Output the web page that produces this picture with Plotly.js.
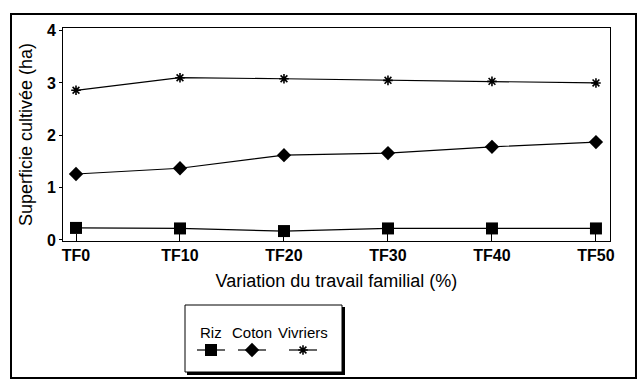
<!DOCTYPE html>
<html>
<head>
<meta charset="utf-8">
<script src="https://cdn.plot.ly/plotly-3.0.1.min.js"></script>
<style>html,body{margin:0;padding:0;background:#fff}#chart{width:638px;height:386px}</style>
</head>
<body>
<div id="chart"></div>
<script>
// ---- data ----
const categories = ["TF0", "TF10", "TF20", "TF30", "TF40", "TF50"];
const riz      = [0.23, 0.22, 0.17, 0.22, 0.22, 0.22];
const coton    = [1.26, 1.37, 1.62, 1.66, 1.78, 1.87];
const vivriers = [2.86, 3.10, 3.08, 3.05, 3.03, 3.00];
const seriesNames = ["Riz", "Coton", "Vivriers"];
const yTicks = [0, 1, 2, 3, 4];

// ---- layout geometry (pixels on a 638x386 page) ----
const W = 638, H = 386;
const px = x => x / W;
const py = y => 1 - y / H;
const plotL = 63, plotR = 610, plotT = 28, plotB = 241;

const symbols = ["square", "diamond", "asterisk-open"];
const sizes = [12, 11, 8];
const seriesData = [riz, coton, vivriers];

const traces = seriesData.map((vals, i) => ({
  type: "scatter", mode: "lines+markers",
  x: categories, y: vals, name: seriesNames[i],
  xaxis: "x", yaxis: "y",
  line: {color: "#000", width: 1.2},
  marker: {symbol: symbols[i], size: sizes[i], color: "#000",
           line: {color: "#000", width: i === 2 ? 1.6 : 0}},
  cliponaxis: false, showlegend: false
}));

// custom legend keys (text above the sample, as in the original)
const keyCenters = [211, 252, 303];
const keyHalf = 14, keyY = 350, labelY = 332;
keyCenters.forEach((cx, i) => {
  traces.push({
    type: "scatter", mode: "lines", x: [cx - keyHalf, cx + keyHalf], y: [keyY, keyY],
    xaxis: "x2", yaxis: "y2", line: {color: "#000", width: 1.2},
    hoverinfo: "skip", showlegend: false
  });
  traces.push({
    type: "scatter", mode: "markers", x: [cx], y: [keyY],
    xaxis: "x2", yaxis: "y2",
    marker: {symbol: symbols[i], size: sizes[i], color: "#000",
             line: {color: "#000", width: i === 2 ? 1.6 : 0}},
    hoverinfo: "skip", showlegend: false
  });
});

const font = {family: "Liberation Sans, Arial, sans-serif", color: "#000"};

const layout = {
  width: W, height: H,
  margin: {l: 0, r: 0, t: 0, b: 0},
  paper_bgcolor: "#fff", plot_bgcolor: "rgba(0,0,0,0)",
  showlegend: false,
  font: font,
  xaxis: {
    type: "category", categoryarray: categories,
    domain: [px(plotL), px(plotR)],
    range: [-0.125, 5.135],
    showline: true, mirror: true, linecolor: "#000", linewidth: 1,
    ticks: "inside", ticklen: 7, tickcolor: "#000", tickwidth: 1,
    showgrid: false, zeroline: false, automargin: false,
    tickfont: {family: font.family, size: 16, weight: "bold", color: "#000"},
    title: {text: "Variation du travail familial (%)", standoff: 11,
            font: {family: font.family, size: 18, color: "#000"}}
  },
  yaxis: {
    domain: [py(plotB), py(plotT)],
    range: [-0.02, 4.05],
    tickvals: yTicks,
    showline: true, mirror: true, linecolor: "#000", linewidth: 1,
    ticks: "outside", ticklen: 3, tickcolor: "#000",
    showgrid: false, zeroline: false, automargin: false,
    tickfont: {family: font.family, size: 16, weight: "bold", color: "#000"},
    title: {text: "Superficie cultivée (ha)", standoff: 9,
            font: {family: font.family, size: 18, color: "#000"}}
  },
  xaxis2: {domain: [0, 1], range: [0, W], visible: false, anchor: "y2", fixedrange: true},
  yaxis2: {domain: [0, 1], range: [H, 0], visible: false, anchor: "x2", fixedrange: true},
  shapes: [
    // outer frame
    {type: "rect", xref: "paper", yref: "paper", x0: px(11), x1: px(636), y0: py(378), y1: py(14),
     line: {color: "#000", width: 2}},
    // legend box
    {type: "rect", xref: "paper", yref: "paper", x0: px(185), x1: px(342), y0: py(372), y1: py(305),
     line: {color: "#000", width: 1}},
    // legend shadow
    {type: "line", xref: "paper", yref: "paper", x0: px(343.5), x1: px(343.5), y0: py(374.5), y1: py(307),
     line: {color: "#000", width: 3}},
    {type: "line", xref: "paper", yref: "paper", x0: px(187), x1: px(345), y0: py(373.5), y1: py(373.5),
     line: {color: "#000", width: 3}}
  ],
  annotations: seriesNames.map((n, i) => ({
    xref: "paper", yref: "paper", x: px(keyCenters[i]), y: py(labelY),
    text: n, showarrow: false, xanchor: "center", yanchor: "middle",
    font: {family: font.family, size: 15, color: "#000"}
  }))
};

Plotly.newPlot("chart", traces, layout, {staticPlot: true, displayModeBar: false});
</script>
</body>
</html>
